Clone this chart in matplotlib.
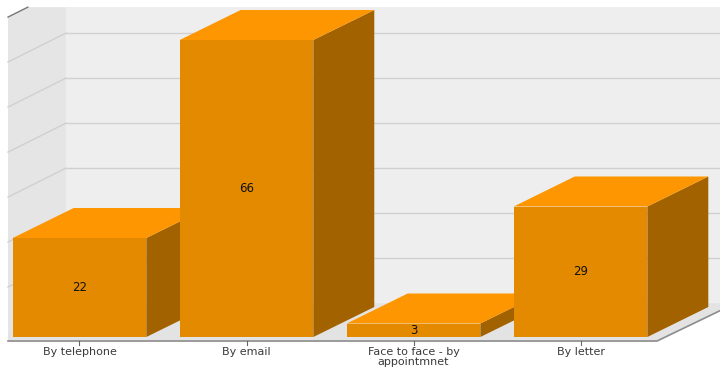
import matplotlib
matplotlib.use('Agg')
import matplotlib.pyplot as plt
from matplotlib.patches import Polygon

# dane
kategorie = ['By telephone', 'By email', 'Face to face - by\nappointmnet', 'By letter']
wartosci = [22, 66, 3, 29]
siatka = [0, 10, 20, 30, 40, 50, 60, 70]

# kolory slupkow 3D
kolor_przod = '#e38a00'
kolor_gora = '#fd9600'
kolor_bok = '#a36200'

# glebokosc efektu 3D (x w kategoriach, y w jednostkach wartosci)
glab_x = 0.365
glab_y = 6.67
szer = 0.8

# sciany
sciana_x = 0.347
sciana_y = 6.44
lewa = -0.428
prawa_front = 3.458
baza = 1.1          # poziom zera siatki na przedniej krawedzi sciany
przod_podlogi = -0.89
gora_tla = 73.3

fig = plt.figure(figsize=(7.2, 3.7), dpi=100)
ax = fig.add_axes([0, 0, 1, 1])
ax.set_xlim(-0.476, 3.835)
ax.set_ylim(-7.33, 74.89)
ax.axis('off')

# tylna sciana
tyl_x = lewa + sciana_x
ax.add_patch(Polygon([(tyl_x, baza + sciana_y), (4.0, baza + sciana_y), (4.0, gora_tla), (tyl_x, gora_tla)],
                     closed=True, facecolor='#eeeeee', edgecolor='none', zorder=1))

# lewa sciana (ucieta u gory)
gora_lewa = baza + 70
x_ciecia = lewa + (gora_tla - gora_lewa) / sciana_y * sciana_x
ax.add_patch(Polygon([(lewa, przod_podlogi + 0.9), (lewa, gora_lewa), (x_ciecia, gora_tla), (tyl_x, gora_tla),
                      (tyl_x, baza + sciana_y)],
                     closed=True, facecolor='#e5e5e5', edgecolor='none', zorder=1))
ax.plot([lewa, x_ciecia], [gora_lewa, gora_tla], color='#777777', lw=1, zorder=2)

# linie siatki
for v in siatka[1:-1]:
    ax.plot([lewa, tyl_x], [baza + v, baza + v + sciana_y], color='#d0d0d0', lw=1, zorder=2)
    ax.plot([tyl_x, 4.0], [baza + v + sciana_y, baza + v + sciana_y], color='#d0d0d0', lw=1, zorder=2)

# podloga
ax.add_patch(Polygon([(lewa, przod_podlogi), (prawa_front, przod_podlogi),
                      (prawa_front + sciana_x + 0.1, przod_podlogi + sciana_y * 1.25),
                      (4.0, baza + sciana_y), (tyl_x, baza + sciana_y), (lewa, baza)],
                     closed=True, facecolor='#e3e3e3', edgecolor='none', zorder=1))
ax.plot([lewa, prawa_front, prawa_front + sciana_x + 0.03],
        [przod_podlogi, przod_podlogi, przod_podlogi + sciana_y + 0.3],
        color='#8c8c8c', lw=1.2, zorder=3)

# slupki
for i, v in enumerate(wartosci):
    x0 = i - szer / 2
    x1 = i + szer / 2
    bok = Polygon([(x1, 0), (x1 + glab_x, glab_y), (x1 + glab_x, v + glab_y), (x1, v)],
                  closed=True, facecolor=kolor_bok, edgecolor='none', zorder=4)
    gora = Polygon([(x0, v), (x1, v), (x1 + glab_x, v + glab_y), (x0 + glab_x, v + glab_y)],
                   closed=True, facecolor=kolor_gora, edgecolor='none', zorder=4)
    przod = Polygon([(x0, 0), (x1, 0), (x1, v), (x0, v)],
                    closed=True, facecolor=kolor_przod, edgecolor='none', zorder=4)
    ax.add_patch(bok)
    ax.add_patch(gora)
    ax.add_patch(przod)
    ax.text(i, v / 2, str(v), ha='center', va='center', fontsize=8.5, color='#111111', zorder=5)

    # znacznik osi i etykieta kategorii
    ax.plot([i, i], [przod_podlogi, przod_podlogi - 0.9], color='#666666', lw=0.8, zorder=3)
    ax.text(i, przod_podlogi - 1.4, kategorie[i], ha='center', va='top', fontsize=8,
            color='#3a3a3a', linespacing=0.95, zorder=5)

fig.savefig('out.png', dpi=100)
